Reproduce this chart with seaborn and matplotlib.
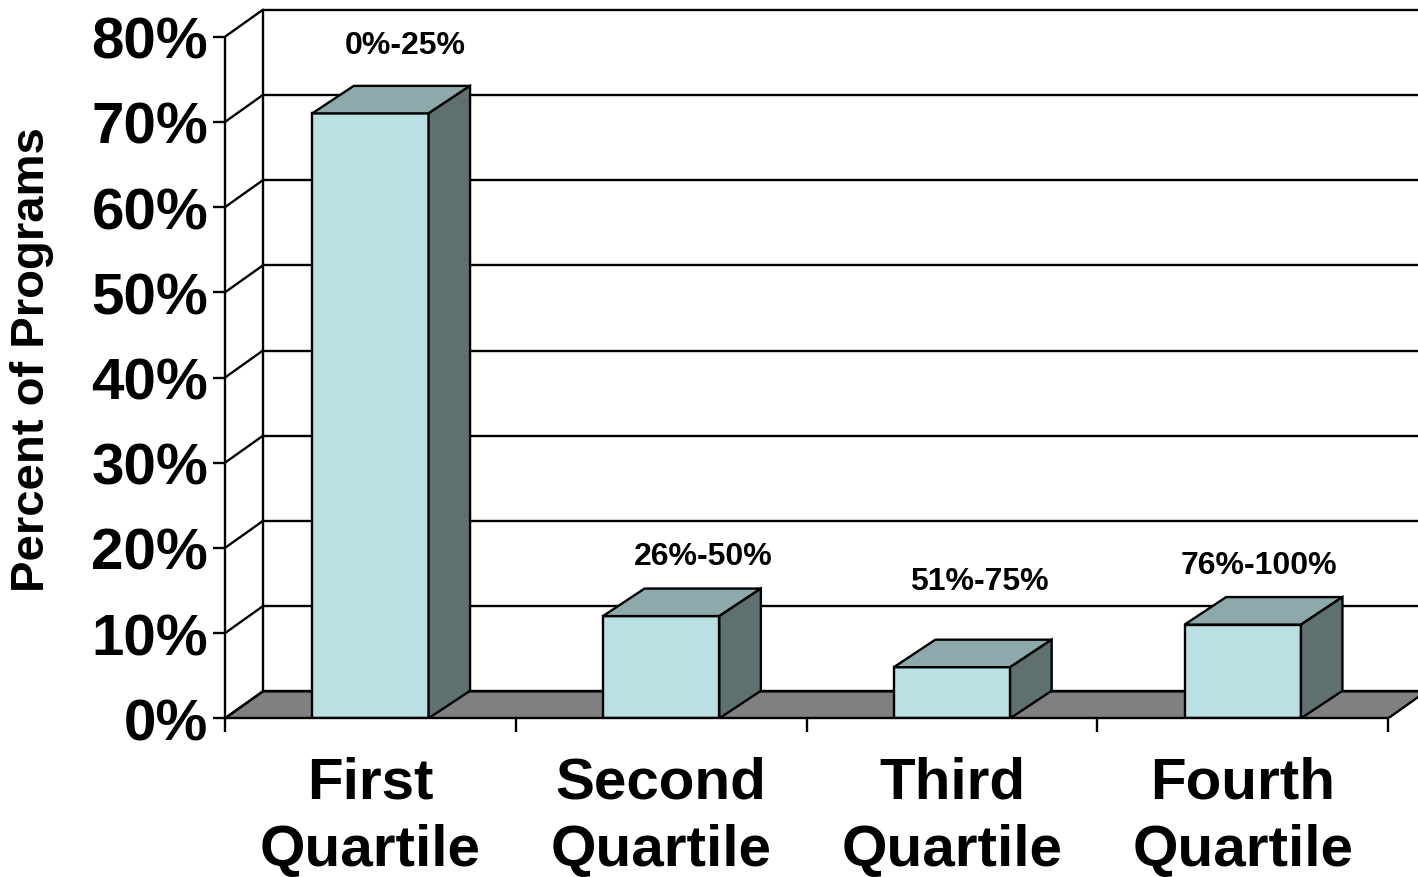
import matplotlib
matplotlib.use("Agg")
import matplotlib.pyplot as plt
import seaborn as sns
import pandas as pd
from matplotlib.patches import Polygon

# Share of programs falling in each quartile
categories = ["First\nQuartile", "Second\nQuartile", "Third\nQuartile", "Fourth\nQuartile"]
percent_programs = [71, 12, 6, 11]
range_labels = ["0%-25%", "26%-50%", "51%-75%", "76%-100%"]
y_ticks = [0, 10, 20, 30, 40, 50, 60, 70, 80]
y_tick_labels = [f"{t}%" for t in y_ticks]

df = pd.DataFrame({"quartile": categories, "percent": percent_programs})

sns.set_theme(style="white")
plt.rcParams["font.family"] = ["Liberation Sans", "DejaVu Sans"]
plt.rcParams["font.weight"] = "bold"
plt.rcParams["text.color"] = "black"
plt.rcParams["xtick.color"] = "black"
plt.rcParams["ytick.color"] = "black"
plt.rcParams["xtick.labelcolor"] = "black"
plt.rcParams["ytick.labelcolor"] = "black"

FRONT = "#bbe0e3"
TOP = "#8ea9ab"
SIDE = "#5e7070"
FLOOR = "#808080"
LW = 1.7

W, H = 1418, 878
fig = plt.figure(figsize=(W / 100, H / 100), dpi=100)
# axes: x from px 225 to right edge, y from baseline px 719 to top edge
x0_px, y0_px = 225.0, 719.3
px_per_cat, px_per_pct = 290.8, 8.52
ax = fig.add_axes([x0_px / W, (H - y0_px) / H, 1 - x0_px / W, y0_px / H])

# depth offsets in data units
wall_dx, wall_dy = 38 / px_per_cat, 27 / px_per_pct
bar_dx, bar_dy = 41.5 / px_per_cat, 27.5 / px_per_pct

sns.barplot(data=df, x="quartile", y="percent", width=0.4, color=FRONT,
            saturation=1, edgecolor="black", linewidth=LW, ax=ax, zorder=3)
bars = list(ax.patches)

xmin, xmax = -0.5, -0.5 + (W - x0_px) / px_per_cat
ax.set_xlim(xmin, xmax)
ax.set_ylim(0, y0_px / px_per_pct)
n = len(categories)
xr = n - 0.5

# floor
ax.add_patch(Polygon([(-0.5, 0), (xr, 0), (xr + wall_dx, wall_dy), (-0.5 + wall_dx, wall_dy)],
                     closed=True, facecolor=FLOOR, edgecolor="black", linewidth=LW, zorder=1))
# back wall grid and left wall edge
for t in y_ticks:
    ax.plot([-0.5 + wall_dx, xmax + 1], [t + wall_dy, t + wall_dy], color="black", lw=LW, zorder=1.5)
    ax.plot([-0.5, -0.5 + wall_dx], [t, t + wall_dy], color="black", lw=LW, zorder=1.5)
ax.plot([-0.5 + wall_dx, -0.5 + wall_dx], [wall_dy, y_ticks[-1] + wall_dy], color="black", lw=LW, zorder=1.5)

# 3-D top and side faces of each bar
for p in bars:
    bx, bw, bh = p.get_x(), p.get_width(), p.get_height()
    ax.add_patch(Polygon([(bx, bh), (bx + bw, bh), (bx + bw + bar_dx, bh + bar_dy), (bx + bar_dx, bh + bar_dy)],
                         closed=True, facecolor=TOP, edgecolor="black", linewidth=LW, zorder=3.5))
    ax.add_patch(Polygon([(bx + bw, 0), (bx + bw + bar_dx, bar_dy), (bx + bw + bar_dx, bh + bar_dy), (bx + bw, bh)],
                         closed=True, facecolor=SIDE, edgecolor="black", linewidth=LW, zorder=3.5))

# range labels above the bars (offsets in pixels)
label_offsets = [(35, 68), (42, 60), (27, 86), (16, 60)]
for i, (lab, v) in enumerate(zip(range_labels, percent_programs)):
    ox, oy = label_offsets[i]
    ax.annotate(lab, xy=(i, v), xytext=(ox * 0.72, oy * 0.72), textcoords="offset points",
                ha="center", va="center", fontsize=23, fontweight="bold", color="black", zorder=5)

# axes lines
for s in ["top", "right"]:
    ax.spines[s].set_visible(False)
ax.spines["left"].set_bounds(0, y_ticks[-1])
ax.spines["bottom"].set_bounds(-0.5, xr)
for s in ["left", "bottom"]:
    ax.spines[s].set_linewidth(LW)
    ax.spines[s].set_color("black")
    ax.spines[s].set_zorder(4)

ax.set_yticks(y_ticks)
ax.set_yticklabels(y_tick_labels, fontsize=42, fontweight="bold", color="black")
ax.tick_params(axis="y", direction="out", length=8.6, width=LW, pad=3.5, color="black", left=True)

ax.set_xticks(range(n))
ax.set_xticklabels(categories, fontsize=42, fontweight="bold", linespacing=1.32, color="black")
ax.set_xticks([k - 0.5 for k in range(n + 1)], minor=True)
ax.tick_params(axis="x", which="major", length=0, pad=27)
ax.tick_params(axis="x", which="minor", direction="out", length=10, width=LW, color="black", bottom=True)
ax.set_xlabel("")
ax.set_ylabel("")
ax.grid(False)

fig.text(32 / W, 1 - 360 / H, "Percent of Programs", rotation=90, ha="center", va="center",
         fontsize=34, fontweight="bold", color="black")

fig.savefig("out.png", dpi=100)
